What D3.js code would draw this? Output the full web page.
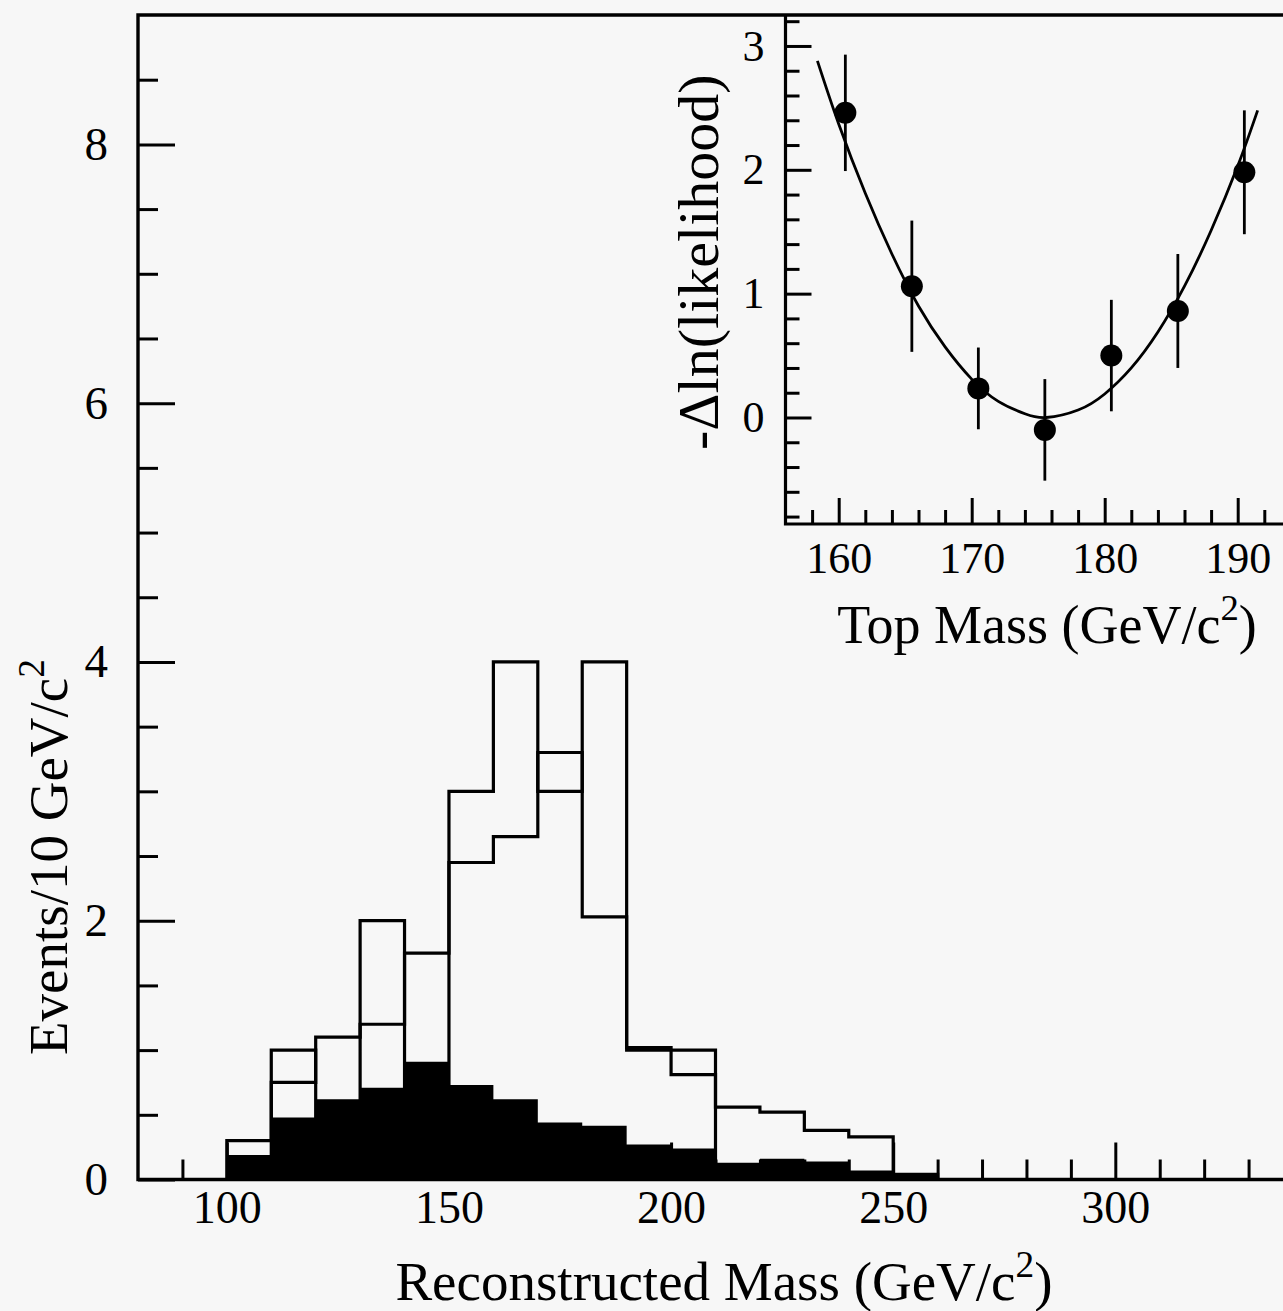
<!DOCTYPE html>
<html>
<head>
<meta charset="utf-8">
<script src="https://cdn.jsdelivr.net/npm/d3@7"></script>
<style>
body { margin: 0; background: #f7f7f7; }
svg { display: block; font-family: "Liberation Serif", "DejaVu Serif", serif; }
.axis { font-family: "Liberation Serif", "DejaVu Serif", serif; }
.axis path.domain { display: none; }
.axis line { stroke: #000; stroke-width: 3; }
.axis text { fill: #000; }
</style>
</head>
<body>
<div id="chart"></div>
<script>
// main histogram: bins of 10 GeV/c^2 (lower edges)
var binLow = [100, 110, 120, 130, 140, 150, 160, 170, 180, 190, 200, 210, 220, 230, 240, 250];
var dataCounts = [0, 1, 0, 2, 0, 3, 4, 3, 4, 1, 1, 0, 0, 0, 0, 0];
var expected = [0.30, 0.75, 1.10, 1.20, 1.75, 2.45, 2.65, 3.30, 2.03, 1.02, 0.81, 0.56, 0.52, 0.38, 0.33, 0.04];
var background = [0.19, 0.48, 0.62, 0.71, 0.91, 0.73, 0.62, 0.44, 0.415, 0.27, 0.24, 0.13, 0.16, 0.14, 0.07, 0.03];
var binWidth = 10;

var massTicks = [100, 150, 200, 250, 300];
var eventTicks = [0, 2, 4, 6, 8];

// inset: likelihood scan
var topMass = [160.5, 165.5, 170.5, 175.5, 180.5, 185.5, 190.5];
var dlnL = [2.46, 1.06, 0.235, -0.10, 0.50, 0.86, 1.98];
var dlnLErr = [0.47, 0.53, 0.33, 0.41, 0.45, 0.46, 0.50];
var fitMass = [158.4, 160, 162, 164, 166, 168, 170, 172, 174, 175.6, 178, 180, 182, 184, 186, 188, 190, 191.5];
var fitDlnL = [2.88, 2.37, 1.81, 1.32, 0.90, 0.57, 0.31, 0.13, 0.03, 0.0, 0.06, 0.19, 0.40, 0.69, 1.06, 1.51, 2.03, 2.48];
var insetMassTicks = [160, 170, 180, 190];
var insetLnTicks = [0, 1, 2, 3];

var W = 1283, H = 1311;
var svg = d3.select('#chart').append('svg')
    .attr('width', W)
    .attr('height', H);

var x = d3.scaleLinear().domain([80, 340]).range([138, 1293]);
var y = d3.scaleLinear().domain([0, 9]).range([1179.5, 15]);

// background (black fill)
var bgPts = binLow.map((b, i) => [b, background[i]]).concat([[binLow[binLow.length - 1] + binWidth, background[background.length - 1]]]);
svg.append('path')
    .datum(bgPts)
    .attr('d', d3.area().curve(d3.curveStepAfter)
        .x(d => x(d[0])).y0(y(0)).y1(d => y(d[1])))
    .attr('fill', '#000');

function stepPoints(vals) {
    var pts = [[binLow[0], 0]];
    binLow.forEach((b, i) => pts.push([b, vals[i]]));
    pts.push([binLow[binLow.length - 1] + binWidth, 0]);
    return pts;
}

var stepLine = d3.line().curve(d3.curveStepAfter)
    .x(d => x(d[0])).y(d => y(d[1]));

[expected, dataCounts].forEach(vals => {
    svg.append('path')
        .datum(stepPoints(vals))
        .attr('d', stepLine)
        .attr('fill', 'none')
        .attr('stroke', '#000')
        .attr('stroke-width', 3.2);
});

// main axes
svg.append('g').attr('class', 'axis')
    .attr('transform', 'translate(' + x.range()[0] + ',0)')
    .call(d3.axisLeft(y).tickValues(d3.range(0.5, 9, 0.5).filter(v => eventTicks.indexOf(v) < 0))
        .tickSize(-20).tickFormat(''));
svg.append('g').attr('class', 'axis')
    .attr('transform', 'translate(' + x.range()[0] + ',0)')
    .call(d3.axisLeft(y).tickValues(eventTicks).tickSize(-37).tickPadding(30).tickFormat(d3.format('d')))
    .selectAll('text').attr('font-size', 47);

svg.append('g').attr('class', 'axis')
    .attr('transform', 'translate(0,' + y(0) + ')')
    .call(d3.axisBottom(x).tickValues(d3.range(90, 340, 10).filter(v => massTicks.indexOf(v) < 0))
        .tickSize(-20).tickFormat(''));
svg.append('g').attr('class', 'axis')
    .attr('transform', 'translate(0,' + y(0) + ')')
    .call(d3.axisBottom(x).tickValues(massTicks).tickSize(-37).tickPadding(11).tickFormat(d3.format('d')))
    .selectAll('text').attr('font-size', 46);

// frame
svg.append('path')
    .attr('d', 'M' + x.range()[1] + ',' + y(9) + 'H' + x.range()[0] + 'V' + y(0) + 'H' + x.range()[1])
    .attr('fill', 'none')
    .attr('stroke', '#000')
    .attr('stroke-width', 3.4);

function massTitle(txt, px, py, size) {
    var t = svg.append('text')
        .attr('transform', 'translate(' + px + ',' + py + ')')
        .attr('text-anchor', 'middle')
        .attr('font-size', size)
        .attr('fill', '#000');
    t.append('tspan').text(txt);
    t.append('tspan').attr('font-size', size * 0.68).attr('dy', -size * 0.42).text('2');
    t.append('tspan').attr('dy', size * 0.42).text(')');
    return t;
}

massTitle('Reconstructed Mass (GeV/c', 724, 1300, 55);

var yt = svg.append('text')
    .attr('transform', 'translate(67,857) rotate(-90)')
    .attr('text-anchor', 'middle')
    .attr('font-size', 55)
    .attr('fill', '#000');
yt.append('tspan').text('Events/10 GeV/c');
yt.append('tspan').attr('font-size', 55 * 0.68).attr('dy', -55 * 0.42).text('2');

// inset
var xi = d3.scaleLinear().domain([156, 194]).range([785.5, 785.5 + 38 * 13.3]);
var yi = d3.scaleLinear().domain([-0.86, 3.25]).range([524, 15]);

svg.append('g').attr('class', 'axis')
    .attr('transform', 'translate(' + xi.range()[0] + ',0)')
    .call(d3.axisLeft(yi).tickValues(d3.range(-0.8, 3.3, 0.2).map(v => Math.round(v * 10) / 10).filter(v => insetLnTicks.indexOf(v) < 0))
        .tickSize(-14).tickFormat(''));
svg.append('g').attr('class', 'axis')
    .attr('transform', 'translate(' + xi.range()[0] + ',0)')
    .call(d3.axisLeft(yi).tickValues(insetLnTicks).tickSize(-26).tickPadding(21).tickFormat(d3.format('d')))
    .selectAll('text').attr('font-size', 44);

svg.append('g').attr('class', 'axis')
    .attr('transform', 'translate(0,' + yi.range()[0] + ')')
    .call(d3.axisBottom(xi).tickValues(d3.range(158, 194, 2).filter(v => insetMassTicks.indexOf(v) < 0))
        .tickSize(-14).tickFormat(''));
svg.append('g').attr('class', 'axis')
    .attr('transform', 'translate(0,' + yi.range()[0] + ')')
    .call(d3.axisBottom(xi).tickValues(insetMassTicks).tickSize(-26).tickPadding(18).tickFormat(d3.format('d')))
    .selectAll('text').attr('font-size', 44);

svg.append('path')
    .attr('d', 'M' + xi.range()[0] + ',' + yi.range()[1] + 'V' + yi.range()[0] + 'H' + W)
    .attr('fill', 'none')
    .attr('stroke', '#000')
    .attr('stroke-width', 3.2);

// fit curve
svg.append('path')
    .datum(fitMass.map((m, i) => [m, fitDlnL[i]]))
    .attr('d', d3.line().curve(d3.curveNatural).x(d => xi(d[0])).y(d => yi(d[1])))
    .attr('fill', 'none')
    .attr('stroke', '#000')
    .attr('stroke-width', 2.8);

// points with error bars
svg.selectAll('.ebar')
    .data(topMass)
    .enter()
    .append('line')
    .attr('class', 'ebar')
    .attr('x1', d => xi(d)).attr('x2', d => xi(d))
    .attr('y1', (d, i) => yi(dlnL[i] + dlnLErr[i]))
    .attr('y2', (d, i) => yi(dlnL[i] - dlnLErr[i]))
    .attr('stroke', '#000')
    .attr('stroke-width', 2.8);

svg.selectAll('.pt')
    .data(topMass)
    .enter()
    .append('circle')
    .attr('class', 'pt')
    .attr('cx', d => xi(d))
    .attr('cy', (d, i) => yi(dlnL[i]))
    .attr('r', 11)
    .attr('fill', '#000');

massTitle('Top Mass (GeV/c', 1047, 643, 54);

svg.append('text')
    .attr('transform', 'translate(718,450) rotate(-90)')
    .attr('text-anchor', 'start')
    .attr('font-size', 58)
    .attr('fill', '#000')
    .text('-Δln(likelihood)');
</script>
</body>
</html>
